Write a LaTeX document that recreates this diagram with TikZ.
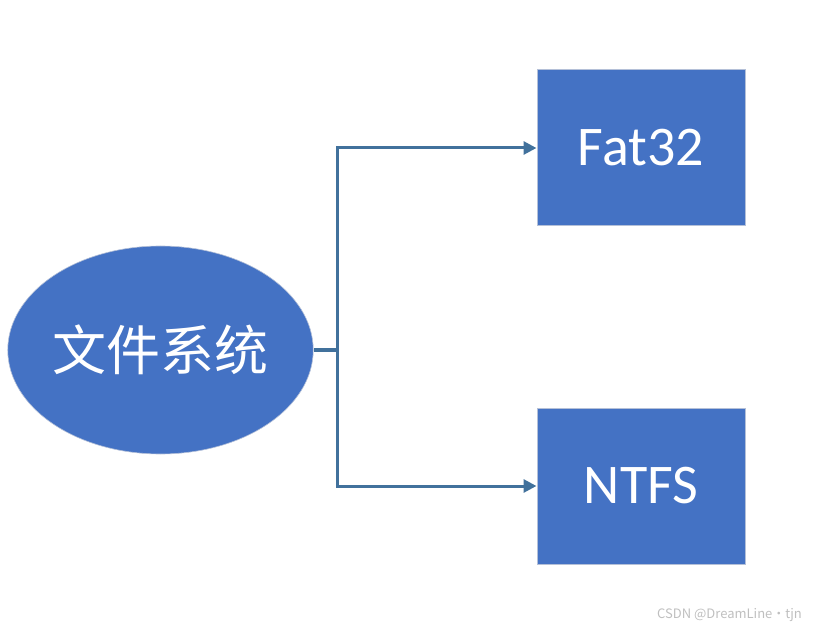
\documentclass[tikz,border=0pt]{standalone}
\usepackage{fontspec}
\setmainfont{Carlito}
\newfontfamily\cjk{Noto Sans CJK SC}
\usetikzlibrary{shapes.geometric,arrows.meta}
\definecolor{fillblue}{HTML}{4472C4}
\definecolor{lineblue}{HTML}{41719C}
\definecolor{boxedge}{HTML}{B4C0D8}
\tikzset{
  rootnode/.style={ellipse, fill=fillblue, draw=boxedge, line width=0.6pt, minimum width=305pt, minimum height=208pt, inner sep=0pt, text=white, font=\cjk\fontsize{54}{60}\selectfont},
  leafnode/.style={rectangle, fill=fillblue, draw=boxedge, line width=1pt, minimum width=208pt, minimum height=156pt, inner sep=0pt, text=white, font=\fontsize{56}{62}\selectfont},
  link/.style={draw=lineblue, line width=3pt},
  arrowlink/.style={link, -{Triangle[length=13pt,width=13pt]}},
}
\begin{document}
\begin{tikzpicture}[x=1pt,y=-1pt]
\useasboundingbox (0,0) rectangle (820,631);
\node[rootnode] (root) at (160.5,350) {文件系统};
\node[leafnode] (fat) at (641,148) {Fat32};
\node[leafnode] (ntfs) at (641,486) {NTFS};
\coordinate (j) at (337,350);
\draw[link] (root.east) -- (j);
\draw[arrowlink] ([yshift=-1.5pt]j) |- (fat.west);
\draw[arrowlink] ([yshift=1.5pt]j) |- (ntfs.west);
\node[text=black!25, font=\cjk\fontsize{13}{15}\selectfont, anchor=east, inner sep=0pt] (wm) at (802,615) {CSDN @DreamLine·tjn};
\end{tikzpicture}
\end{document}
